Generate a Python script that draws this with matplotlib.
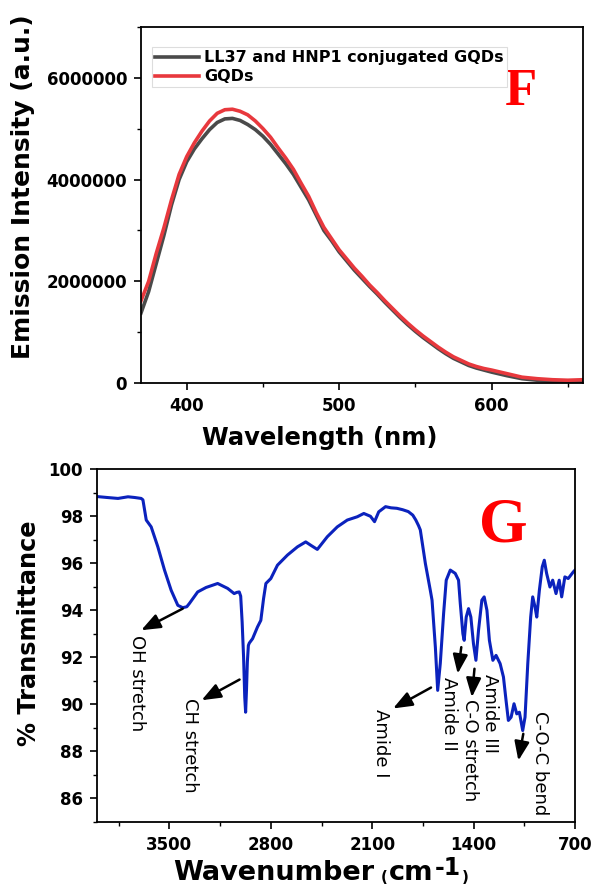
import matplotlib
matplotlib.use('Agg')
import matplotlib.pyplot as plt
from matplotlib.ticker import MultipleLocator, FuncFormatter

# panel F - emission spectra
wavelength = [370, 375, 380, 385, 390, 395, 400, 405, 410, 415, 420, 425, 430, 435,
              440, 445, 450, 455, 460, 465, 470, 475, 480, 485, 490, 495, 500, 505,
              510, 515, 520, 525, 530, 535, 540, 545, 550, 555, 560, 565, 570, 575,
              580, 585, 590, 595, 600, 610, 620, 630, 640, 650, 660]
gqd_intensity = [1.62e6, 2.0e6, 2.55e6, 3.05e6, 3.6e6, 4.1e6, 4.45e6, 4.72e6, 4.95e6,
                 5.15e6, 5.30e6, 5.37e6, 5.38e6, 5.34e6, 5.27e6, 5.15e6, 5.0e6, 4.83e6,
                 4.62e6, 4.42e6, 4.2e6, 3.93e6, 3.67e6, 3.35e6, 3.06e6, 2.84e6, 2.62e6,
                 2.44e6, 2.26e6, 2.1e6, 1.93e6, 1.78e6, 1.62e6, 1.47e6, 1.32e6, 1.18e6,
                 1.05e6, 0.93e6, 0.82e6, 0.71e6, 0.61e6, 0.52e6, 0.45e6, 0.38e6, 0.33e6,
                 0.29e6, 0.26e6, 0.19e6, 0.12e6, 0.09e6, 0.07e6, 0.06e6, 0.07e6]
conj_intensity = [1.38e6, 1.8e6, 2.35e6, 2.9e6, 3.5e6, 4.0e6, 4.35e6, 4.6e6, 4.8e6,
                  4.98e6, 5.12e6, 5.19e6, 5.2e6, 5.16e6, 5.08e6, 4.98e6, 4.85e6, 4.69e6,
                  4.5e6, 4.31e6, 4.1e6, 3.85e6, 3.6e6, 3.3e6, 3.0e6, 2.8e6, 2.58e6,
                  2.4e6, 2.22e6, 2.06e6, 1.9e6, 1.75e6, 1.59e6, 1.44e6, 1.29e6, 1.15e6,
                  1.02e6, 0.9e6, 0.79e6, 0.68e6, 0.58e6, 0.49e6, 0.42e6, 0.35e6, 0.3e6,
                  0.26e6, 0.22e6, 0.15e6, 0.09e6, 0.06e6, 0.04e6, 0.03e6, 0.02e6]

# panel G - FTIR
wavenumber = [4000, 3930, 3855, 3786, 3740, 3695, 3683, 3660, 3626, 3580, 3534, 3488,
              3442, 3408, 3380, 3362, 3305, 3247, 3167, 3098, 3053, 3035, 3018, 3008,
              2998, 2988, 2980, 2974, 2968, 2962, 2955, 2949, 2926, 2892, 2869, 2850,
              2834, 2800, 2754, 2685, 2616, 2559, 2525, 2479, 2410, 2341, 2272, 2203,
              2158, 2112, 2084, 2055, 2008, 1970, 1930, 1890, 1851, 1820, 1799, 1780,
              1768, 1733, 1699, 1687, 1664, 1648, 1630, 1607, 1589, 1561, 1527, 1504,
              1492, 1474, 1465, 1451, 1435, 1419, 1401, 1384, 1366, 1343, 1327, 1308,
              1291, 1267, 1245, 1217, 1194, 1176, 1160, 1141, 1121, 1102, 1084, 1061,
              1045, 1026, 1006, 992, 976, 964, 946, 926, 912, 896, 873, 854, 831, 809,
              792, 770, 747, 712, 700]
transmittance = [98.84, 98.80, 98.76, 98.83, 98.80, 98.76, 98.70, 97.84, 97.55, 96.70,
                 95.71, 94.85, 94.21, 94.11, 94.15, 94.29, 94.78, 94.97, 95.14, 94.93,
                 94.71, 94.76, 94.78, 94.6, 93.5, 92.0, 90.3, 89.66, 90.6, 91.8, 92.5,
                 92.6, 92.79, 93.29, 93.57, 94.5, 95.14, 95.35, 95.92, 96.35, 96.70,
                 96.91, 96.77, 96.59, 97.13, 97.55, 97.84, 97.98, 98.12, 98.0, 97.77,
                 98.19, 98.41, 98.36, 98.34, 98.28, 98.2, 98.05, 97.84, 97.6, 97.42,
                 95.99, 94.85, 94.43, 92.43, 90.59, 91.74, 93.87, 95.28, 95.71, 95.57,
                 95.28, 94.29, 93.0, 92.72, 93.71, 94.07, 93.71, 92.58, 91.87, 93.15,
                 94.43, 94.57, 94.0, 92.72, 91.87, 92.08, 91.73, 91.16, 90.16, 89.31,
                 89.45, 90.02, 89.59, 89.66, 88.88, 89.45, 91.73, 93.71, 94.57, 94.14,
                 93.71, 94.85, 95.85, 96.13, 95.57, 94.99, 95.28, 94.71, 95.28, 94.57,
                 95.42, 95.35, 95.63, 95.71]

# band labels: text, text position, arrow tail, arrow head
band_labels = ['OH stretch', 'CH stretch', 'Amide I', 'Amide II', 'C-O stretch',
               'Amide III', 'C-O-C bend']
label_pos = [(3722, 92.93), (3358, 90.25), (2040, 89.8), (1569, 91.14), (1425, 90.24),
             (1284, 91.3), (941, 89.72)]
arrows = [((3408, 94.07), (3695, 93.15)),
          ((3016, 91.05), (3278, 90.17)),
          ((1694, 90.71), (1956, 89.82)),
          ((1485, 92.43), (1510, 91.3)),
          ((1394, 91.51), (1412, 90.30)),
          ((1057, 88.74), (1091, 87.6))]

plt.rcParams['font.family'] = 'DejaVu Sans'
plt.rcParams['font.weight'] = 'bold'

fig = plt.figure(figsize=(5.93, 8.86), dpi=100)
W, H = 593.0, 886.0


def style_axes(ax):
    for s in ax.spines.values():
        s.set_linewidth(1.3)
    ax.tick_params(which='major', direction='out', length=5, width=1.2,
                   labelsize=12, pad=5, top=False, right=False)
    ax.tick_params(which='minor', direction='out', length=3, width=1.0,
                   top=False, right=False)


# ---- F ----
ax1 = fig.add_axes([141 / W, 1 - 383.3 / H, 442 / W, 356.6 / H])
ax1.plot(wavelength, conj_intensity, color='#4a4a4a', lw=2.6,
         label='LL37 and HNP1 conjugated GQDs')
ax1.plot(wavelength, gqd_intensity, color='#e8383d', lw=2.6, label='GQDs')
ax1.set_xlim(370, 660)
ax1.set_ylim(0, 7e6)
ax1.xaxis.set_major_locator(MultipleLocator(100))
ax1.xaxis.set_minor_locator(MultipleLocator(50))
ax1.yaxis.set_major_locator(MultipleLocator(2e6))
ax1.yaxis.set_minor_locator(MultipleLocator(1e6))
ax1.yaxis.set_major_formatter(FuncFormatter(lambda v, p: f'{v:.0f}'))
style_axes(ax1)
leg = ax1.legend(loc='upper left', bbox_to_anchor=(0.025, 0.943), borderaxespad=0,
                 frameon=True, fancybox=False, framealpha=1, edgecolor='#dddddd',
                 prop={'weight': 'bold', 'size': 11.5}, handlelength=2.75,
                 handletextpad=0.3, borderpad=0.2, labelspacing=0.25)
leg.get_frame().set_linewidth(0.8)
ax1.text(0.858, 0.78, 'F', transform=ax1.transAxes, color='red', fontsize=38,
         fontweight='bold', family='Liberation Serif', ha='center', va='baseline')
fig.text(320 / W, 1 - 445 / H, 'Wavelength (nm)', ha='center', va='baseline',
         fontsize=17.5, fontweight='bold')
fig.text(23 / W, 1 - 186.5 / H, 'Emission Intensity (a.u.)', rotation=90,
         ha='center', va='center', fontsize=18, fontweight='bold')

# ---- G ----
ax2 = fig.add_axes([97 / W, 1 - 821.7 / H, 478 / W, 352.4 / H])
ax2.plot(wavenumber, transmittance, color='#0b22bd', lw=2.2)
ax2.set_xlim(4000, 700)
ax2.set_ylim(85, 100)
ax2.set_xticks([3500, 2800, 2100, 1400, 700])
ax2.set_xticks([3850, 3150, 2450, 1750, 1050], minor=True)
ax2.yaxis.set_major_locator(MultipleLocator(2))
ax2.yaxis.set_minor_locator(MultipleLocator(1))
style_axes(ax2)

for (tail, head) in arrows:
    ax2.annotate('', xy=head, xytext=tail,
                 arrowprops=dict(arrowstyle='-|>,head_length=1.15,head_width=0.45',
                                 color='black', lw=1.8, shrinkA=0, shrinkB=0))
for txt, (x, y) in zip(band_labels, label_pos):
    ax2.text(x, y, txt, rotation=270, ha='center', va='top', fontsize=13,
             fontweight='normal')

ax2.text(0.85, 0.795, 'G', transform=ax2.transAxes, color='red', fontsize=45,
         fontweight='bold', family='Liberation Serif', ha='center', va='baseline')
fig.text(29 / W, 1 - 633.5 / H, '% Transmittance', rotation=90,
         ha='center', va='center', fontsize=17.3, fontweight='bold')

# x label of G built piece by piece: small brackets, big superscript
renderer = fig.canvas.get_renderer()
x_px = 173
for s, fs, dy, gap in [('Wavenumber', 19.5, 0, 7), ('(', 11, -2, 1), ('cm', 19.5, 0, 1),
                       ('-1', 17, 5, 1), (')', 11, -2, 0)]:
    t = fig.text(x_px / W, 1 - (880 - dy) / H, s, fontsize=fs, fontweight='bold',
                 ha='left', va='baseline')
    x_px = t.get_window_extent(renderer).x1 + gap

fig.savefig('out.png', dpi=100)
plt.close()
